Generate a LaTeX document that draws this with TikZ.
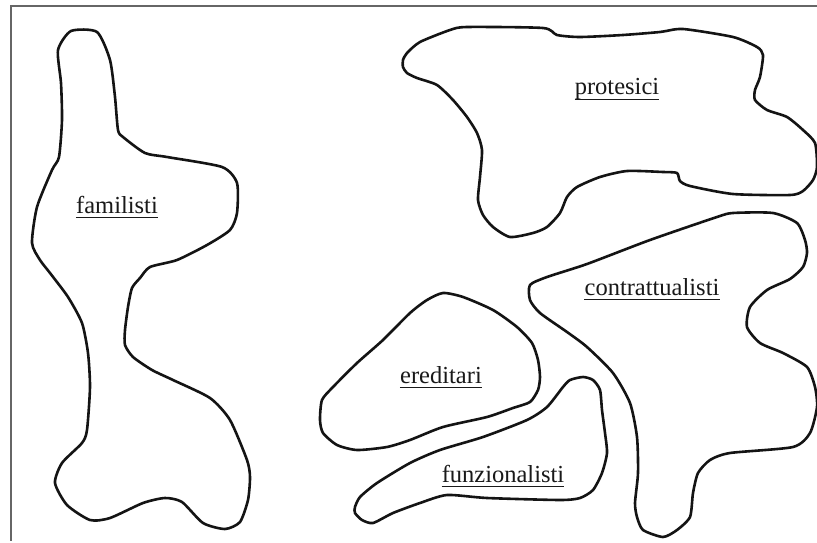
\documentclass[tikz,border=0pt]{standalone}
\usepackage{fontspec}
\setmainfont{Liberation Serif}
\begin{document}
\begin{tikzpicture}[x=1pt,y=-1pt,
  blob/.style={draw=black!92,line width=2.6pt,line join=round,line cap=round},
  lbl/.style={inner sep=0pt,anchor=base,font=\fontsize{24.5}{28}\selectfont,text=black!90},
  uline/.style={draw=black!90,line width=1.4pt},
  frameline/.style={draw=black!60,line width=1.3pt}]
\useasboundingbox (0,0) rectangle (817,543);
\fill[white] (0,0) rectangle (817,543);
% frame
\coordinate (fTL) at (11,6);
\coordinate (fTR) at (817,6);
\coordinate (fBL) at (11,541);
\draw[frameline] (fTR) -- (fTL) -- (fBL);
% familisti
\draw[blob] plot[smooth cycle,tension=0.4] coordinates {
(71,31) (97,32) (110,60) (115,97) (118,130) (123,137) (145,153) (167,157)
(222,167) (237,183) (237,213) (230,230) (207,245) (177,260) (150,267) (140,278)
(132,288) (128,307) (125,330) (125,345) (133,357) (152,370) (173,380) (210,398)
(230,420) (247,460) (250,477) (248,500) (240,522) (225,529) (203,523) (182,502)
(165,498) (143,503) (110,518) (90,520) (67,505) (55,483) (62,463) (82,443)
(87,430) (90,387) (88,353) (82,323) (68,297) (50,273) (40,260) (32,243)
(37,207) (52,170) (59,157) (62,120) (61,83) (58,50)};
% protesici
\draw[blob] plot[smooth cycle,tension=0.4] coordinates {
(403,60) (407,53) (420,42) (450,30) (467,27) (543,28) (557,35) (580,37)
(623,35) (660,32) (683,29) (733,37) (757,47) (763,55) (760,77) (755,90)
(755,100) (767,110) (787,117) (803,130) (815,143) (817,167) (813,180) (803,191)
(790,195) (733,194) (690,186) (680,181) (677,173) (663,172) (627,171) (600,177)
(577,187) (567,197) (560,213) (547,227) (533,233) (510,237) (493,227) (483,215)
(478,200) (480,177) (482,150) (477,133) (467,117) (453,100) (437,85) (417,78)
(407,73) (403,67)};
% contrattualisti
\draw[blob] plot[smooth cycle,tension=0.4] coordinates {
(530,285) (547,277) (587,264) (650,240) (717,217) (733,213) (773,213) (797,223)
(805,240) (807,253) (803,267) (790,279) (767,290) (750,307) (747,327) (760,343)
(783,353) (807,367) (815,387) (817,407) (810,433) (793,447) (730,453) (710,460)
(698,473) (693,493) (690,517) (677,530) (663,537) (643,530) (637,517) (635,503)
(638,473) (637,437) (630,403) (613,373) (587,347) (567,332) (540,313) (530,300)};
% ereditari
\draw[blob] plot[smooth cycle,tension=0.4] coordinates {
(322,400) (333,387) (357,363) (383,340) (410,313) (427,300) (443,293) (463,297)
(493,310) (517,327) (532,343) (538,360) (540,377) (538,390) (530,402) (513,408)
(487,417) (443,427) (410,440) (387,447) (357,450) (337,445) (323,433) (320,420)};
% funzionalisti
\draw[blob] plot[smooth cycle,tension=0.4] coordinates {
(355,507) (360,497) (377,483) (410,463) (440,450) (483,437) (527,420) (547,407)
(563,387) (570,380) (583,377) (593,380) (600,390) (602,410) (605,433) (607,453)
(602,473) (593,490) (580,498) (560,500) (487,498) (447,495) (420,503) (393,513)
(373,523) (362,520) (355,513)};
% labels
\node[lbl] (tfam) at (117,213) {familisti};
\node[lbl] (tpro) at (617,95) {protesici};
\node[lbl] (tcon) at (652,295) {contrattualisti};
\node[lbl] (tere) at (441,383) {ereditari};
\node[lbl] (tfun) at (503,482) {funzionalisti};
\foreach \n in {tfam,tpro,tcon,tere,tfun}{
  \draw[uline] ([yshift=-4.5pt]\n.base west) -- ([yshift=-4.5pt]\n.base east);
}
\end{tikzpicture}
\end{document}
